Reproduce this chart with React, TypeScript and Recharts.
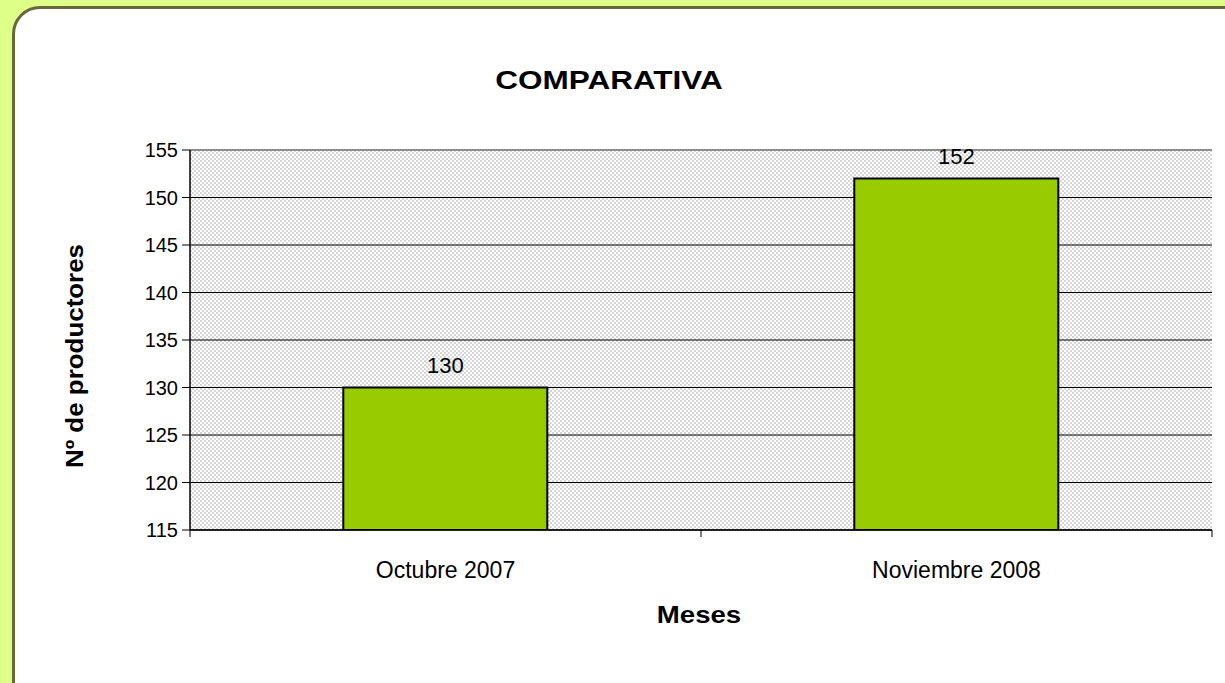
import { Bar, BarChart, CartesianGrid, LabelList, ReferenceLine, XAxis, YAxis } from "recharts";

// Nº de productores por mes
const months = ["Octubre 2007", "Noviembre 2008"];
const producers = [130, 152];
const yTicks = [115, 120, 125, 130, 135, 140, 145, 150, 155];

const FONT = "Arial, 'Liberation Sans', sans-serif";

const data = months.map((mes, i) => ({ mes, productores: producers[i] }));

function MonthTick(props: any) {
  const { x, y, payload, index, visibleTicksCount } = props;
  const half = payload?.offset ?? 0;
  return (
    <g>
      <line x1={x - half} x2={x - half} y1={y - 8} y2={y - 1} stroke="#000" />
      {index === visibleTicksCount - 1 && (
        <line x1={x + half} x2={x + half} y1={y - 8} y2={y - 1} stroke="#000" />
      )}
      <text x={x} y={y + 40} textAnchor="middle" fontSize={23} fill="#000" fontFamily={FONT}>
        {payload.value}
      </text>
    </g>
  );
}

const boldText = {
  position: "absolute" as const,
  fontFamily: FONT,
  fontWeight: "bold" as const,
  fontSize: 24,
  whiteSpace: "nowrap" as const,
};

export default function App() {
  return (
    <div style={{ position: "absolute", left: 0, top: 0, width: 1225, height: 683, overflow: "hidden", background: "#DEFF88" }}>
      <svg width={0} height={0} style={{ position: "absolute" }}>
        <defs>
          <pattern id="checker" width={4} height={4} patternUnits="userSpaceOnUse">
            <rect width={4} height={4} fill="#FFFFFF" />
            <rect width={2} height={2} fill="#D6D6D6" />
            <rect x={2} y={2} width={2} height={2} fill="#D6D6D6" />
          </pattern>
        </defs>
      </svg>
      <div
        style={{
          position: "absolute",
          left: 12,
          top: 6,
          width: 1240,
          height: 700,
          background: "#FFFFFF",
          border: "3px solid #67673A",
          borderRadius: 28,
        }}
      />
      <div style={{ ...boldText, fontSize: 25, left: 609, top: 80, transform: "translate(-50%, -50%) scaleX(1.26)" }}>
        COMPARATIVA
      </div>
      <div style={{ ...boldText, left: 75, top: 356, transform: "translate(-50%, -50%) rotate(-90deg) scaleX(1.08)" }}>
        Nº de productores
      </div>
      <div style={{ ...boldText, left: 699, top: 615, transform: "translate(-50%, -50%) scaleX(1.15)" }}>
        Meses
      </div>
      <div style={{ position: "absolute", left: 0, top: 0 }}>
        <BarChart
          width={1225}
          height={683}
          data={data}
          margin={{ top: 150, right: 13, bottom: 123, left: 130 }}
          barCategoryGap="30%"
        >
          <CartesianGrid vertical={false} stroke="#000" fill="url(#checker)" fillOpacity={1} />
          <XAxis
            dataKey="mes"
            height={30}
            axisLine={{ stroke: "#000", strokeWidth: 1.5 }}
            tickLine={false}
            tick={<MonthTick />}
            interval={0}
          />
          <YAxis
            domain={[115, 155]}
            ticks={yTicks}
            width={60}
            axisLine={{ stroke: "#000", strokeWidth: 1.5 }}
            tickLine={{ stroke: "#000" }}
            tickSize={8}
            tickMargin={4}
            tick={{ fill: "#000", fontSize: 20, fontFamily: FONT }}
            allowDataOverflow
          />
          <YAxis
            yAxisId="right"
            orientation="right"
            width={0}
            axisLine={{ stroke: "#8C8C8C", strokeWidth: 2 }}
            tick={false}
            tickLine={false}
          />
          <ReferenceLine y={155} stroke="#8C8C8C" strokeWidth={2} />
          <Bar dataKey="productores" fill="#99CC00" stroke="#000" strokeWidth={2} isAnimationActive={false}>
            <LabelList dataKey="productores" position="top" offset={15} fill="#000" fontSize={22} fontFamily={FONT} />
          </Bar>
        </BarChart>
      </div>
    </div>
  );
}
